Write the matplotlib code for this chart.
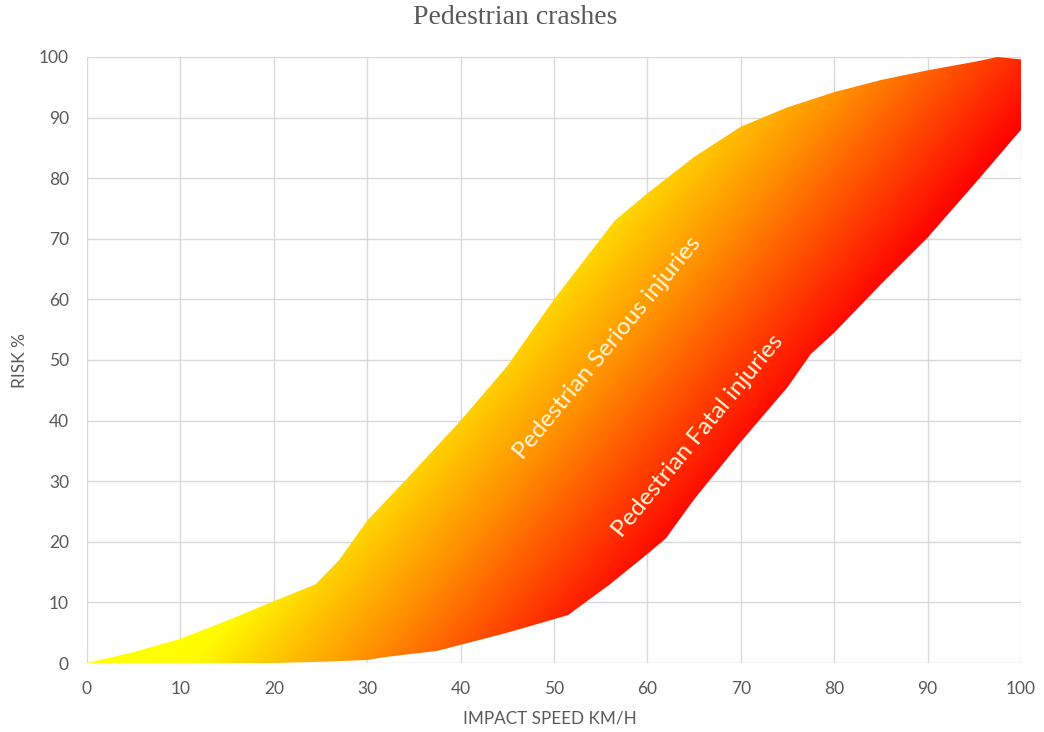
import numpy as np
import matplotlib
matplotlib.use("Agg")
import matplotlib.pyplot as plt
from matplotlib.colors import LinearSegmentedColormap
from matplotlib.patches import Polygon

# Data
serious_x = [0, 5, 10, 15, 20, 24.5, 27, 30, 34, 40, 45, 50, 56.5, 60, 65, 70, 75, 80, 85, 90, 95, 97.5, 100]
serious_y = [0, 1.8, 4, 7, 10.2, 13, 17, 23.5, 30, 40, 49, 60, 73, 77.5, 83.5, 88.5, 91.7, 94.2, 96.2, 97.8, 99.2, 100, 99.6]
fatal_x = [0, 10, 20, 25, 30, 32, 37.5, 40, 45, 51.5, 56, 60, 62, 65, 70, 75, 77.5, 80, 85, 90, 95, 100]
fatal_y = [0, 0, 0, 0.2, 0.5, 1, 2, 3, 5, 7.9, 13, 18, 20.6, 27, 36.5, 45.5, 51, 54.5, 62.5, 70.2, 79, 88]
x_ticks = [0, 10, 20, 30, 40, 50, 60, 70, 80, 90, 100]
y_ticks = [0, 10, 20, 30, 40, 50, 60, 70, 80, 90, 100]
title = "Pedestrian crashes"
xlabel = "IMPACT SPEED KM/H"
ylabel = "RISK %"
label_serious = "Pedestrian Serious injuries"
label_fatal = "Pedestrian Fatal injuries"

W, H = 1044, 732
fig = plt.figure(figsize=(W / 100, H / 100), dpi=100)
ax = fig.add_axes([87 / W, 1 - 663 / H, (1021 - 87) / W, (663 - 57) / H])
ax.set_xlim(0, 100)
ax.set_ylim(0, 100)

gray = "#595959"
grid_c = "#D9D9D9"
for v in x_ticks:
    ax.axvline(v, color=grid_c, lw=1.0, zorder=0)
for v in y_ticks:
    ax.axhline(v, color=grid_c, lw=1.0, zorder=0)
for s in ax.spines.values():
    s.set_visible(False)

# gradient fill between the curves
cmap = LinearSegmentedColormap.from_list(
    "yor",
    [(0.0, "#FFFF00"), (0.1, "#FFFA00"), (0.25, "#FFD000"), (0.5, "#FF9000"),
     (0.75, "#FF4800"), (1.0, "#FF0000")])
n = 400
u = np.linspace(0, 1, n)
U, V = np.meshgrid(u, u)
T = np.clip(-0.15 + 2.2 * U - 1.2 * V, 0, 1)
im = ax.imshow(T, extent=[0, 100, 0, 100], origin="lower", aspect="auto",
               cmap=cmap, vmin=0, vmax=1, interpolation="bilinear", zorder=2)
verts = list(zip(serious_x, serious_y)) + list(zip(fatal_x[::-1], fatal_y[::-1]))
poly = Polygon(verts, closed=True, facecolor="none", edgecolor="none", transform=ax.transData)
ax.add_patch(poly)
im.set_clip_path(poly)

ax.set_xticks(x_ticks)
ax.set_yticks(y_ticks)
ax.tick_params(length=0, pad=13, labelsize=12.5, labelcolor=gray)
for lab in ax.get_xticklabels() + ax.get_yticklabels():
    lab.set_fontfamily("Lato")

fig.text(515 / W, 1 - 17 / H, title, ha="center", va="center", fontsize=20,
         color=gray, family="Liberation Serif")
fig.text(550 / W, 1 - 718 / H, xlabel, ha="center", va="center", fontsize=12.3,
         color=gray, family="Lato")
fig.text(20 / W, 1 - 360 / H, ylabel, ha="center", va="center", fontsize=12.5,
         color=gray, family="Lato", rotation=90)

fig.text(607 / W, 1 - 348 / H, label_serious, ha="center", va="center", fontsize=17.5,
         color="#FFF6D8", family="Lato", rotation=50.5, zorder=5)
fig.text(698 / W, 1 - 436 / H, label_fatal, ha="center", va="center", fontsize=17.5,
         color="#FFF6D8", family="Lato", rotation=50.5, zorder=5)

fig.savefig("out.png", dpi=100)
